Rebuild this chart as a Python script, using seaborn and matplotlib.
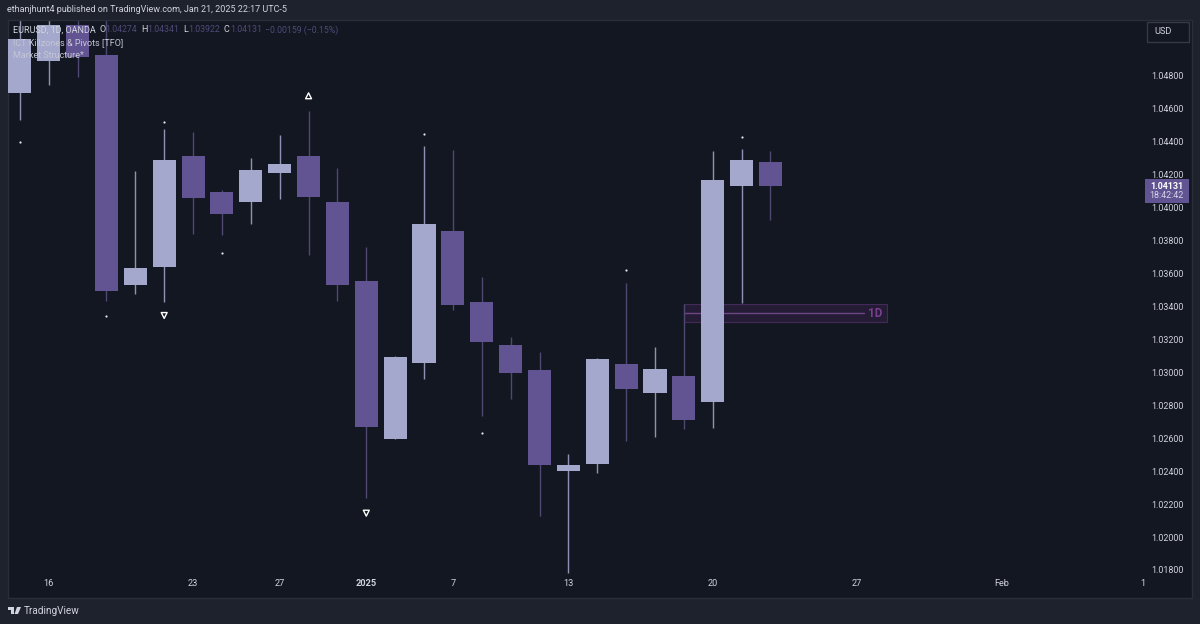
import numpy as np
import pandas as pd
import seaborn as sns
import matplotlib.pyplot as plt
from matplotlib.patches import Rectangle, Polygon, Circle

# daily candles
bars = list(range(27))
opens = [1.04697, 1.04891, 1.05109, 1.04927, 1.03533, 1.03642, 1.04315, 1.04097, 1.04036, 1.04212,
         1.04315, 1.04036, 1.03552, 1.02594, 1.03055, 1.03855, 1.03424, 1.03164, 1.03012, 1.02400,
         1.02442, 1.03048, 1.02873, 1.02976, 1.02818, 1.04131, 1.04274]
closes = [1.05024, 1.05109, 1.04915, 1.03491, 1.03636, 1.04291, 1.04061, 1.03964, 1.04230, 1.04267,
          1.04067, 1.03533, 1.02667, 1.03091, 1.03903, 1.03406, 1.03182, 1.02994, 1.02436, 1.02436,
          1.03079, 1.02897, 1.03018, 1.02709, 1.04170, 1.04291, 1.04131]
highs = [1.0530, 1.0530, 1.0530, 1.0530, 1.04224, 1.04479, 1.04461, 1.04109, 1.04303, 1.04442,
         1.04588, 1.04242, 1.03758, 1.03097, 1.04376, 1.04352, 1.03576, 1.03212, 1.03121, 1.02503,
         1.03085, 1.03545, 1.03152, 1.03412, 1.04345, 1.04358, 1.04341]
lows = [1.04533, 1.04745, 1.04794, 1.03436, 1.03473, 1.03424, 1.03842, 1.03836, 1.03903, 1.04055,
        1.03715, 1.03436, 1.02236, 1.02594, 1.02958, 1.03376, 1.02733, 1.02836, 1.02127, 1.01782,
        1.02388, 1.02582, 1.02606, 1.02655, 1.02661, 1.03418, 1.03922]

price_ticks = [1.048, 1.046, 1.044, 1.042, 1.040, 1.038, 1.036, 1.034, 1.032, 1.030,
               1.028, 1.026, 1.024, 1.022, 1.020, 1.018]
time_pos = [1, 6, 9, 12, 15, 19, 24, 29, 34, 38.9]
time_labels = ['16', '23', '27', '2025', '7', '13', '20', '27', 'Feb', '1']
time_bold = ['2025']

# pivot dots and market structure triangles
dot_x = [0, 5, 3, 7, 14, 16, 21, 25]
dot_y = [1.04401, 1.04521, 1.03339, 1.03727, 1.04449, 1.02630, 1.03624, 1.04430]
tri_up_x = [10]
tri_up_y = [1.04679]
tri_down_x = [5, 12]
tri_down_y = [1.03345, 1.02145]

zone_x = [23.02, 30.03]
zone_y = [1.03303, 1.03412]
zone_mid = 1.03358

BG = '#131722'
FRAME = '#1e222d'
UP = '#a3a8cc'
DOWN = '#625493'
UP_WICK = '#8f93b3'
DOWN_WICK = '#4f4873'
ZONE = '#7a3f8e'
TEXT = '#d1d4dc'

sns.set_theme(style='dark')
plt.rcParams['font.family'] = ['Roboto', 'DejaVu Sans']

df = pd.DataFrame({'bar': bars, 'open': opens, 'close': closes, 'high': highs, 'low': lows})
df['bottom'] = df[['open', 'close']].min(axis=1)
df['height'] = (df['close'] - df['open']).abs()
df['up'] = df['close'] > df['open']
up = df[df['up']]
down = df[~df['up']]

fig = plt.figure(figsize=(12, 6.24), dpi=100, facecolor=FRAME)
ax = fig.add_axes([8 / 1200, 1 - 598 / 624, 1184 / 1200, 578 / 624], facecolor=BG)

# zone under the candles
ax.add_patch(Rectangle((zone_x[0], zone_y[0]), zone_x[1] - zone_x[0], zone_y[1] - zone_y[0],
                       facecolor='#241c35', edgecolor='#432a58', linewidth=0.8, zorder=1))
ax.plot([zone_x[0], 29.25], [zone_mid, zone_mid], color='#6f4585', linewidth=1, zorder=1.5)
ax.text(29.63, zone_mid, '1D', color=ZONE, fontsize=8.5, fontweight='bold',
        ha='center', va='center', zorder=2)

ax.vlines(up['bar'], up['low'], up['high'], color=UP_WICK, linewidth=1, zorder=2)
ax.vlines(down['bar'], down['low'], down['high'], color=DOWN_WICK, linewidth=1, zorder=2)

sns.barplot(data=up, x='bar', y='height', bottom=up['bottom'].values, native_scale=True, width=0.8,
            color=UP, saturation=1, errorbar=None, linewidth=0, zorder=3, ax=ax)
sns.barplot(data=down, x='bar', y='height', bottom=down['bottom'].values, native_scale=True, width=0.8,
            color=DOWN, saturation=1, errorbar=None, linewidth=0, zorder=3, ax=ax)

sns.scatterplot(x=dot_x, y=dot_y, color='#e6e6ee', s=2.5, linewidth=0, zorder=4, ax=ax)
sns.scatterplot(x=tri_up_x, y=tri_up_y, marker='^', s=18, color='white', linewidth=1, zorder=4, ax=ax)
ax.collections[-1].set_facecolor('none')
sns.scatterplot(x=tri_down_x, y=tri_down_y, marker='v', s=18, color='white', linewidth=1, zorder=4, ax=ax)
ax.collections[-1].set_facecolor('none')

ax.set_xlim(-0.41, 40.6)
ax.set_ylim(1.01630, 1.05139)
ax.set_xlabel('')
ax.set_ylabel('')
ax.grid(False)
ax.yaxis.tick_right()
ax.set_yticks(price_ticks)
ax.set_yticklabels([f'{p:.5f}' for p in price_ticks])
ax.set_xticks(time_pos)
ax.set_xticklabels(time_labels)
ax.tick_params(axis='y', length=0, pad=-29.5, labelsize=6.4, labelcolor=TEXT)
ax.tick_params(axis='x', length=0, pad=-14, labelsize=6.6, labelcolor=TEXT)
for lab in ax.get_xticklabels():
    if lab.get_text() in time_bold:
        lab.set_fontweight('bold')
for s in ax.spines.values():
    s.set_color('#2a2e39')
    s.set_linewidth(1)


def put(x, y, s, **kw):
    kw.setdefault('color', TEXT)
    kw.setdefault('fontsize', 6.5)
    kw.setdefault('va', 'center')
    fig.text(x / 1200, 1 - y / 624, s, zorder=10, **kw)


put(7, 10, 'ethanjhunt4 published on TradingView.com, Jan 21, 2025 22:17 UTC-5', fontsize=6.45)

# legend rows
OHLC_COL = '#4d4a78'
put(13, 30, 'EURUSD, 1D, OANDA')
for x, s in [(99, 'O'), (141, 'H'), (183, 'L'), (224, 'C')]:
    put(x, 30, s)
for x, s in [(105, '1.04274'), (147, '1.04341'), (188, '1.03922'), (230, '1.04131'),
             (265, '\u22120.00159 (\u22120.15%)')]:
    put(x, 30, s, fontsize=6.3, color=OHLC_COL)
put(13, 43, 'ICT Killzones & Pivots [TFO]', color='#c4c6d4')
put(13, 56, 'Market Structure*', color='#c4c6d4')

# last price tag
fig.add_artist(Rectangle((1145 / 1200, 1 - 203 / 624), 44 / 1200, 24 / 624, transform=fig.transFigure,
                         facecolor=DOWN, edgecolor='none', zorder=9))
put(1166.5, 186, '1.04131', color='white', fontweight='bold', ha='center', fontsize=6.4)
put(1166.5, 196, '18:42:42', color='#d8d6e8', ha='center', fontsize=6.4)

# currency button
fig.add_artist(Rectangle((1147 / 1200, 1 - 42 / 624), 42 / 1200, 20 / 624, transform=fig.transFigure,
                         facecolor=BG, edgecolor='#363a45', linewidth=1, zorder=9))
put(1154, 32, 'USD', fontsize=6.6)

# TradingView logo
for patch in [Polygon([[8 / 1200, 1 - 607 / 624], [14 / 1200, 1 - 607 / 624], [14 / 1200, 1 - 614 / 624],
                       [11 / 1200, 1 - 614 / 624], [11 / 1200, 1 - 610 / 624], [8 / 1200, 1 - 610 / 624]],
                      transform=fig.transFigure, facecolor=TEXT, edgecolor='none', zorder=9),
              Polygon([[17 / 1200, 1 - 607 / 624], [21 / 1200, 1 - 607 / 624],
                       [18 / 1200, 1 - 614 / 624], [14.5 / 1200, 1 - 614 / 624]],
                      transform=fig.transFigure, facecolor=TEXT, edgecolor='none', zorder=9)]:
    fig.add_artist(patch)
put(24, 611, 'TradingView', fontsize=7.2)

fig.savefig('out.png', dpi=100, facecolor=FRAME)
plt.close(fig)
